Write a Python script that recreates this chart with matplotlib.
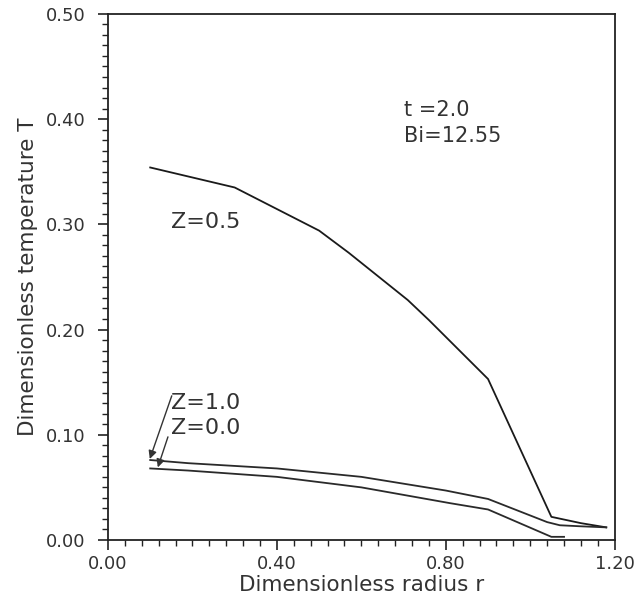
import numpy as np
import matplotlib.pyplot as plt
from matplotlib.ticker import MultipleLocator, FormatStrFormatter

# radial temperature profiles at three axial positions
r_z05 = [0.10, 0.30, 0.50, 0.57, 0.71, 0.76, 0.86, 0.90, 1.05, 1.12, 1.18]
T_z05 = [0.354, 0.335, 0.294, 0.273, 0.228, 0.209, 0.169, 0.153, 0.022, 0.016, 0.012]

r_z10 = [0.10, 0.19, 0.40, 0.60, 0.80, 0.90, 1.04, 1.07, 1.12, 1.18]
T_z10 = [0.076, 0.073, 0.068, 0.060, 0.047, 0.039, 0.017, 0.014, 0.013, 0.012]

r_z00 = [0.10, 0.19, 0.40, 0.60, 0.81, 0.90, 1.05, 1.08]
T_z00 = [0.068, 0.066, 0.060, 0.050, 0.035, 0.029, 0.003, 0.003]

txt = '#333333'
plt.rcParams['font.family'] = 'DejaVu Sans'

fig = plt.figure(figsize=(6.39, 6.02), dpi=100)
ax = fig.add_axes([0.169, 0.103, 0.793, 0.874])

ax.plot(r_z05, T_z05, color='#1a1a1a', lw=1.3)
ax.plot(r_z10, T_z10, color='#2a2a2a', lw=1.3)
ax.plot(r_z00, T_z00, color='#2a2a2a', lw=1.3)

ax.set_xlim(0, 1.2)
ax.set_ylim(0, 0.5)
ax.xaxis.set_major_locator(MultipleLocator(0.4))
ax.xaxis.set_minor_locator(MultipleLocator(0.04))
ax.yaxis.set_major_locator(MultipleLocator(0.1))
ax.yaxis.set_minor_locator(MultipleLocator(0.01))
ax.xaxis.set_major_formatter(FormatStrFormatter('%.2f'))
ax.yaxis.set_major_formatter(FormatStrFormatter('%.2f'))
ax.tick_params(which='major', length=7, width=1.2, labelsize=13,
               labelcolor=txt, color='#222222')
ax.tick_params(axis='y', which='major', pad=9)
ax.tick_params(axis='x', which='major', pad=4)
ax.tick_params(which='minor', length=4, width=1.0, color='#222222')

for s in ax.spines.values():
    s.set_linewidth(1.3)
    s.set_color('#222222')

ax.set_xlabel('Dimensionless radius r', fontsize=15.5, color=txt, labelpad=1)
ax.set_ylabel('Dimensionless temperature T', fontsize=15.5, color=txt, labelpad=6)

# curve labels and parameters
ax.text(0.15, 0.302, 'Z=0.5', fontsize=16, color=txt, va='center')
ax.text(0.15, 0.130, 'Z=1.0', fontsize=16, color=txt, va='center')
ax.text(0.15, 0.106, 'Z=0.0', fontsize=16, color=txt, va='center')
ax.text(0.70, 0.409, 't =2.0', fontsize=15, color=txt, va='center')
ax.text(0.70, 0.384, 'Bi=12.55', fontsize=15, color=txt, va='center')

arrow = dict(arrowstyle='-|>', color='#333333', lw=1.0,
             mutation_scale=12, shrinkA=0, shrinkB=0)
ax.annotate('', xy=(0.099, 0.077), xytext=(0.151, 0.137), arrowprops=arrow)
ax.annotate('', xy=(0.118, 0.069), xytext=(0.142, 0.098), arrowprops=arrow)

fig.savefig('out.png', dpi=100)
